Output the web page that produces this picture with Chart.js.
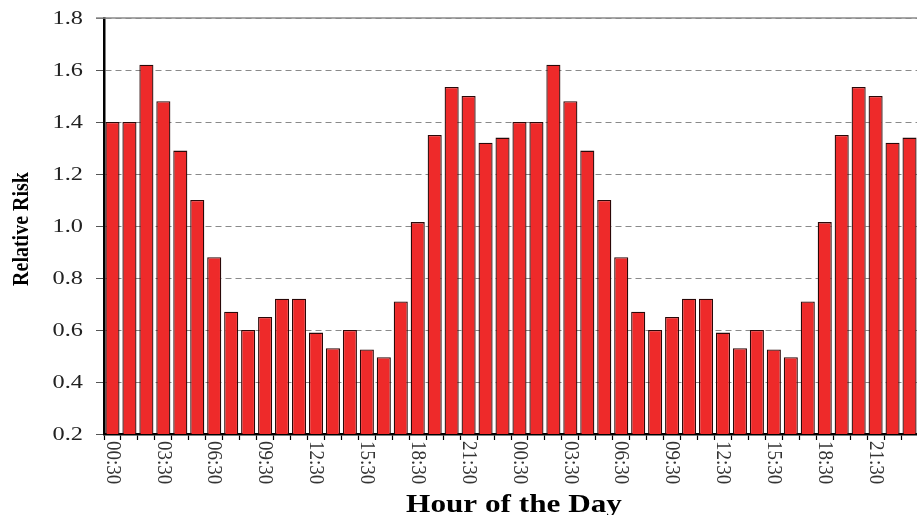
<!DOCTYPE html>
<html>
<head>
<meta charset="utf-8">
<script src="https://cdn.jsdelivr.net/npm/chart.js@4/dist/chart.umd.min.js"></script>
<style>
  html, body { margin: 0; padding: 0; background: #fff; overflow: hidden; }
  #wrap { width: 920px; height: 515px; position: relative; }
</style>
</head>
<body>
<div id="wrap"><canvas id="riskChart"></canvas></div>
<script>
// Horas (dos días seguidos) y riesgo relativo por hora
const hours = [
  '00:30', '01:30', '02:30', '03:30', '04:30', '05:30', '06:30', '07:30',
  '08:30', '09:30', '10:30', '11:30', '12:30', '13:30', '14:30', '15:30',
  '16:30', '17:30', '18:30', '19:30', '20:30', '21:30', '22:30', '23:30',
  '00:30', '01:30', '02:30', '03:30', '04:30', '05:30', '06:30', '07:30',
  '08:30', '09:30', '10:30', '11:30', '12:30', '13:30', '14:30', '15:30',
  '16:30', '17:30', '18:30', '19:30', '20:30', '21:30', '22:30', '23:30'
];
const riskDay1 = [1.40, 1.40, 1.62, 1.48, 1.29, 1.10, 0.88, 0.67, 0.60, 0.65, 0.72, 0.72,
                  0.59, 0.53, 0.60, 0.525, 0.495, 0.71, 1.015, 1.35, 1.535, 1.50, 1.32, 1.34];
const riskDay2 = [1.40, 1.40, 1.62, 1.48, 1.29, 1.10, 0.88, 0.67, 0.60, 0.65, 0.72, 0.72,
                  0.59, 0.53, 0.60, 0.525, 0.495, 0.71, 1.015, 1.35, 1.535, 1.50, 1.32, 1.34];
const risk = riskDay1.concat(riskDay2);
const yTicks = [0.2, 0.4, 0.6, 0.8, 1.0, 1.2, 1.4, 1.6, 1.8];
const xTitle = 'Hour of the Day';
const yTitle = 'Relative Risk';

const serif = '"Liberation Serif", "DejaVu Serif", serif';
const stretch = 1.28; // el texto va algo ensanchado en horizontal

// textos de los ejes dibujados a mano (ensanchados, etiquetas X giradas 90°)
const axisText = {
  id: 'axisText',
  afterDraw(chart) {
    const { ctx, scales: { x, y }, chartArea } = chart;
    ctx.save();

    // borde superior continuo en 1.8
    const yTop = y.getPixelForValue(yTicks[yTicks.length - 1]);
    ctx.strokeStyle = '#8a8a8a';
    ctx.lineWidth = 1.5;
    ctx.beginPath();
    ctx.moveTo(chartArea.left - 8, yTop);
    ctx.lineTo(chartArea.right, yTop);
    ctx.stroke();

    // etiquetas del eje Y
    ctx.fillStyle = '#222';
    ctx.font = '19px ' + serif;
    ctx.textAlign = 'right';
    ctx.textBaseline = 'middle';
    yTicks.forEach(v => {
      ctx.save();
      ctx.translate(chartArea.left - 21, y.getPixelForValue(v));
      ctx.scale(stretch, 1);
      ctx.fillText(v.toFixed(1), 0, 1);
      ctx.restore();
    });

    // etiquetas del eje X, cada 3 horas, leyendo hacia abajo
    ctx.fillStyle = '#333';
    ctx.font = '19px ' + serif;
    ctx.textAlign = 'left';
    hours.forEach((h, i) => {
      if (i % 3) return;
      ctx.save();
      ctx.translate(x.getPixelForValue(i), x.top + 7);
      ctx.rotate(Math.PI / 2);
      ctx.scale(1, 1.15);
      ctx.fillText(h, 0, 0);
      ctx.restore();
    });

    // título X
    ctx.fillStyle = '#000';
    ctx.font = 'bold 26px ' + serif;
    ctx.textAlign = 'center';
    ctx.textBaseline = 'alphabetic';
    ctx.save();
    ctx.translate((chartArea.left + chartArea.right) / 2 + 3, 512);
    ctx.scale(1.2, 1);
    ctx.fillText(xTitle, 0, 0);
    ctx.restore();

    // título Y
    ctx.font = 'bold 20px ' + serif;
    ctx.textBaseline = 'middle';
    ctx.save();
    ctx.translate(22, (chartArea.top + chartArea.bottom) / 2 + 3);
    ctx.rotate(-Math.PI / 2);
    ctx.scale(1, 1.15);
    ctx.fillText(yTitle, 0, 0);
    ctx.restore();

    ctx.restore();
  }
};

const riskCtx = document.getElementById('riskChart').getContext('2d');
new Chart(riskCtx, {
  type: 'bar',
  data: {
    labels: hours,
    datasets: [{
      label: yTitle,
      data: risk,
      backgroundColor: '#ee2a2a',
      borderColor: '#2a0808',
      borderWidth: 1.3,
      borderSkipped: false,
      barPercentage: 0.83,
      categoryPercentage: 1.0
    }]
  },
  options: {
    responsive: true,
    maintainAspectRatio: false,
    animation: false,
    layout: { padding: { top: 18, right: 2, left: 0, bottom: 0 } },
    plugins: {
      legend: { display: false },
      tooltip: { enabled: false }
    },
    scales: {
      x: {
        afterFit: s => { s.height = 81; },
        grid: {
          display: true,
          drawOnChartArea: false,
          drawTicks: true,
          tickLength: 6,
          tickColor: '#000',
          tickWidth: 1.2,
          offset: true
        },
        border: { display: true, color: '#000', width: 2.5 },
        ticks: { display: false, autoSkip: false }
      },
      y: {
        min: yTicks[0],
        max: yTicks[yTicks.length - 1],
        afterFit: s => { s.width = 104; },
        grid: {
          color: '#8a8a8a',
          lineWidth: 1,
          tickLength: 8,
          tickColor: '#555'
        },
        border: { display: true, color: '#000', width: 2.5, dash: [6, 4] },
        ticks: { display: false, stepSize: 0.2 }
      }
    }
  },
  plugins: [axisText]
});
</script>
</body>
</html>
